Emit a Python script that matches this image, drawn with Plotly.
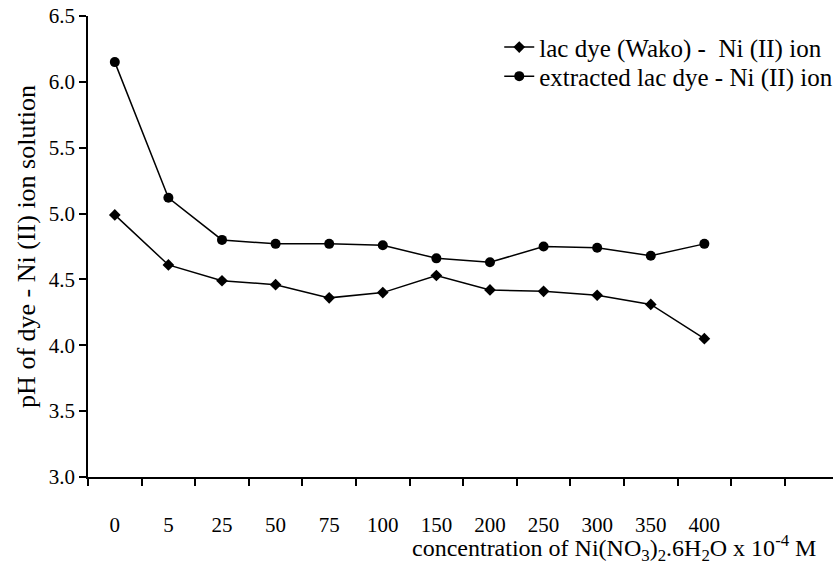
import plotly.graph_objects as go

# Ni(NO3)2.6H2O concentration (x 10^-4 M), plotted as evenly spaced categories
concentrations = ["0", "5", "25", "50", "75", "100", "150", "200", "250", "300", "350", "400"]
ph_wako = [4.99, 4.61, 4.49, 4.46, 4.36, 4.40, 4.53, 4.42, 4.41, 4.38, 4.31, 4.05]
ph_extracted = [6.15, 5.12, 4.80, 4.77, 4.77, 4.76, 4.66, 4.63, 4.75, 4.74, 4.68, 4.77]
y_ticks = [3.0, 3.5, 4.0, 4.5, 5.0, 5.5, 6.0, 6.5]

FONT = "Liberation Serif, Times New Roman, serif"
idx = list(range(len(concentrations)))

fig = go.Figure()
fig.add_trace(go.Scatter(
    x=idx, y=ph_wako, mode="lines+markers",
    name="lac dye (Wako) -  Ni (II) ion",
    line=dict(color="black", width=1.5),
    marker=dict(symbol="diamond", size=9, color="black"),
    legend="legend",
))
fig.add_trace(go.Scatter(
    x=idx, y=ph_extracted, mode="lines+markers",
    name="extracted lac dye - Ni (II) ion",
    line=dict(color="black", width=1.5),
    marker=dict(symbol="circle", size=10, color="black"),
    legend="legend2",
))

legend_common = dict(
    font=dict(family=FONT, size=25, color="black"),
    bgcolor="rgba(0,0,0,0)", borderwidth=0,
    xanchor="left", yanchor="middle", itemwidth=30,
)

fig.update_layout(
    width=833, height=574,
    margin=dict(l=88, r=0, t=16, b=97, autoexpand=False),
    paper_bgcolor="white", plot_bgcolor="white",
    font=dict(family=FONT, size=21, color="black"),
    showlegend=True,
    legend=dict(x=0.552, y=0.932, **legend_common),
    legend2=dict(x=0.552, y=0.869, **legend_common),
    xaxis=dict(
        range=[-0.5, 13.4], automargin=False,
        tickmode="array", tickvals=idx, ticktext=concentrations,
        ticks="", ticklabelstandoff=28,
        minor=dict(tickmode="array", tickvals=[i - 0.5 for i in range(15)],
                   ticks="outside", ticklen=7, tickwidth=1.5, tickcolor="black"),
        showline=True, linecolor="black", linewidth=1.5,
        showgrid=False, zeroline=False,
        tickfont=dict(family=FONT, size=21),
    ),
    yaxis=dict(
        range=[3.0, 6.5], automargin=False,
        tickmode="array", tickvals=y_ticks, ticktext=[f"{v:.1f}" for v in y_ticks],
        ticks="outside", ticklen=7, tickwidth=1.5, tickcolor="black",
        showline=True, linecolor="black", linewidth=1.5,
        showgrid=False, zeroline=False,
        tickfont=dict(family=FONT, size=21),
        title=dict(text="pH of dye - Ni (II) ion solution", font=dict(family=FONT, size=26),
                   standoff=6),
    ),
    annotations=[dict(
        text="concentration of Ni(NO<sub>3</sub>)<sub>2</sub>.6H<sub>2</sub>O x 10<sup>-4</sup> M",
        xref="paper", yref="paper", x=0.98, y=-0.155,
        xanchor="right", yanchor="middle", showarrow=False,
        font=dict(family=FONT, size=24, color="black"),
    )],
)

fig.write_html("out.html")
